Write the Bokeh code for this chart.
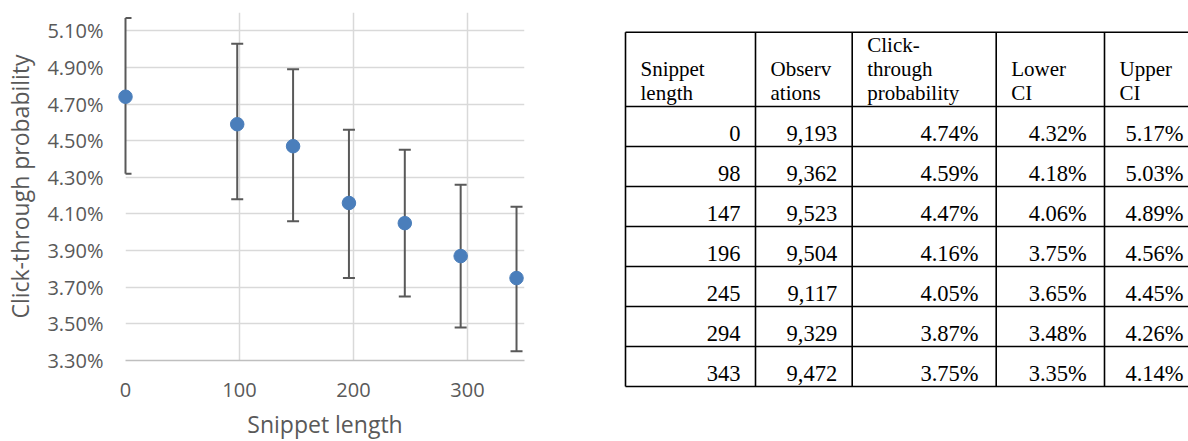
from bokeh.plotting import figure
from bokeh.layouts import row
from bokeh.models import Range1d, FixedTicker, PrintfTickFormatter, ColumnDataSource
from bokeh.core.properties import value
from bokeh.embed import file_html
from bokeh.resources import INLINE

# ---------------- data ----------------
snippet_length = [0, 98, 147, 196, 245, 294, 343]
observations = [9193, 9362, 9523, 9504, 9117, 9329, 9472]
ctr_pct = [4.74, 4.59, 4.47, 4.16, 4.05, 3.87, 3.75]
lower_ci = [4.32, 4.18, 4.06, 3.75, 3.65, 3.48, 3.35]
upper_ci = [5.17, 5.03, 4.89, 4.56, 4.45, 4.26, 4.14]
y_ticks = [3.3, 3.5, 3.7, 3.9, 4.1, 4.3, 4.5, 4.7, 4.9, 5.1]
x_ticks = [0, 100, 200, 300]
x_title = "Snippet length"
y_title = "Click-through probability"
header_lines = [["Snippet", "length"], ["Observ", "ations"],
                ["Click-", "through", "probability"], ["Lower", "CI"], ["Upper", "CI"]]

FONT = "Open Sans"
GREY_TXT = "#595959"
BAR_GREY = "#595959"
BLUE = "#4A7EBB"
GRID = "#D9D9D9"

# ---------------- chart ----------------
X0, X1, Y0, Y1 = 0, 350, 3.3, 5.2
B_TOP, B_BOTTOM, H = 12, 81, 441
p = figure(width=580, height=H, x_range=Range1d(X0, X1), y_range=Range1d(Y0, Y1),
           output_backend="svg", toolbar_location=None,
           min_border_left=125, min_border_right=56, min_border_top=B_TOP,
           min_border_bottom=B_BOTTOM)
p.frame_align = False
p.outline_line_color = None
p.background_fill_color = "white"
p.xaxis.ticker = FixedTicker(ticks=x_ticks)
p.yaxis.ticker = FixedTicker(ticks=y_ticks)
p.yaxis.formatter = PrintfTickFormatter(format="%.2f%%")
for ax in p.axis:
    ax.major_tick_line_color = None
    ax.minor_tick_line_color = None
    ax.major_label_text_font = FONT
    ax.major_label_text_font_size = "20px"
    ax.major_label_text_color = GREY_TXT
    ax.axis_label_text_font = FONT
    ax.axis_label_text_font_size = "23px"
    ax.axis_label_text_font_style = "normal"
    ax.axis_label_text_color = GREY_TXT
p.yaxis.axis_line_color = None
p.xaxis.axis_line_color = "#BFBFBF"
p.xaxis.axis_line_width = 1.5
p.xaxis.major_label_standoff = 16
p.yaxis.major_label_standoff = 16
p.yaxis.axis_label = y_title
p.yaxis.axis_label_standoff = 8
p.xgrid.grid_line_color = GRID
p.ygrid.grid_line_color = GRID
p.xgrid.grid_line_width = 1.5
p.ygrid.grid_line_width = 1.5

# x-axis title drawn under the tick labels without enlarging the bottom border
px_per_unit = (H - B_TOP - B_BOTTOM) / (Y1 - Y0)
p.text(x=[(X0 + X1) / 2], y=[Y0 - 63 / px_per_unit], text=[x_title],
       text_font=value(FONT), text_font_size="23px", text_color=GREY_TXT,
       text_align="center", text_baseline="alphabetic", level="overlay")

src = ColumnDataSource(dict(x=snippet_length, y=ctr_pct, lo=lower_ci, hi=upper_ci))
p.segment(x0="x", y0="lo", x1="x", y1="hi", source=src, line_color=BAR_GREY,
          line_width=2, level="overlay")
p.scatter(x="x", y="hi", marker="dash", size=12, line_color=BAR_GREY, line_width=2, source=src)
p.scatter(x="x", y="lo", marker="dash", size=12, line_color=BAR_GREY, line_width=2, source=src)
p.scatter(x="x", y="y", size=13.5, fill_color=BLUE, line_color=BLUE, source=src, level="overlay")

# ---------------- table ----------------
TW = 608
t = figure(width=TW, height=H, x_range=Range1d(0, TW), y_range=Range1d(H, 0),
           output_backend="svg", toolbar_location=None,
           min_border=0, min_border_left=0, min_border_right=0,
           min_border_top=0, min_border_bottom=0,
           x_axis_type=None, y_axis_type=None)
t.frame_align = False
t.outline_line_color = None
t.grid.visible = False

col_edges = [45, 175, 271.7, 415.7, 524, 620.7]
row_edges = [31.7, 106, 146, 186, 226, 266, 306, 346, 386]
right_pad = [15, 15, 17.7, 17.7, 17.7]

# borders
t.segment(x0=[col_edges[0]] * len(row_edges), y0=row_edges,
          x1=[TW + 20] * len(row_edges), y1=row_edges, line_color="black", line_width=1.6)
t.segment(x0=col_edges, y0=[row_edges[0]] * len(col_edges),
          x1=col_edges, y1=[row_edges[-1]] * len(col_edges), line_color="black", line_width=1.6)

# header
hx, hy, ht = [], [], []
for i, lines in enumerate(header_lines):
    n = len(lines)
    for j, s in enumerate(lines):
        hx.append(col_edges[i] + 15)
        hy.append(row_edges[1] - 14 - 24 * (n - 1 - j))
        ht.append(s)
t.text(x=hx, y=hy, text=ht, text_font=value("Liberation Serif"), text_font_size="21px",
       text_color="black", text_align="left", text_baseline="alphabetic")

# body
columns = [
    [str(v) for v in snippet_length],
    [f"{v:,}" for v in observations],
    [f"{v:.2f}%" for v in ctr_pct],
    [f"{v:.2f}%" for v in lower_ci],
    [f"{v:.2f}%" for v in upper_ci],
]
bx, by, bt = [], [], []
for i, col in enumerate(columns):
    for r, s in enumerate(col):
        bx.append(col_edges[i + 1] - right_pad[i])
        by.append(row_edges[r + 2] - 13.5)
        bt.append(s)
t.text(x=bx, y=by, text=bt, text_font=value("Liberation Serif"), text_font_size="22.5px",
       text_color="black", text_align="right", text_baseline="alphabetic")

layout = row(p, t)
open("out.html", "w").write(file_html(layout, INLINE))
